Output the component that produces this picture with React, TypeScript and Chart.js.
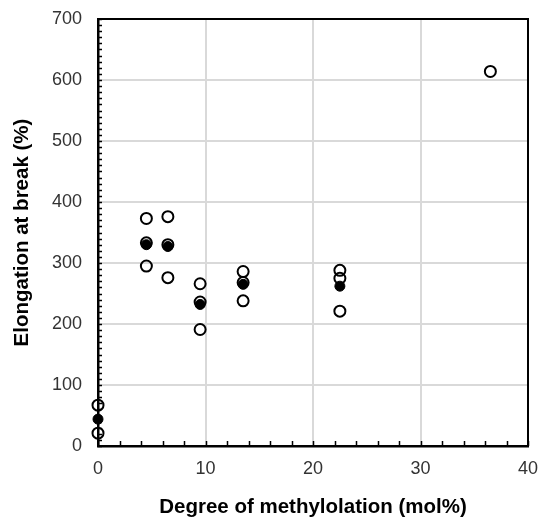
import React, { useEffect, useRef } from "react";
import { Chart, registerables } from "chart.js";

Chart.register(...registerables);

// Individual measurements (open circles)
const openX = [0, 0, 4.5, 4.5, 4.5, 6.5, 6.5, 6.5, 9.5, 9.5, 9.5, 13.5, 13.5, 13.5, 22.5, 22.5, 22.5, 36.5];
const openY = [67, 21, 373, 333, 295, 376, 330, 276, 266, 236, 191, 286, 268, 238, 288, 275, 221, 614];

// Mean values (filled circles)
const meanX = [0, 4.5, 6.5, 9.5, 13.5, 22.5];
const meanY = [44, 330, 327, 232, 265, 262];

const xTicks = [0, 10, 20, 30, 40];
const yTicks = [0, 100, 200, 300, 400, 500, 600, 700];
const xMinorStep = 2;
const yMinorStep = 10;

const xTitle = "Degree of methylolation (mol%)";
const yTitle = "Elongation at break (%)";

const frameAndMinorTicks = {
  id: "frameAndMinorTicks",
  beforeDatasetsDraw(chart: any) {
    const { ctx, chartArea, scales } = chart;
    const xs = scales.x;
    const ys = scales.y;
    ctx.save();
    ctx.strokeStyle = "#000";
    ctx.lineWidth = 2;
    ctx.beginPath();
    ctx.moveTo(chartArea.left, chartArea.top);
    ctx.lineTo(chartArea.right, chartArea.top);
    ctx.lineTo(chartArea.right, chartArea.bottom);
    ctx.stroke();
    ctx.lineWidth = 1.5;
    ctx.beginPath();
    for (let v = xTicks[0]; v <= xTicks[xTicks.length - 1]; v += xMinorStep) {
      const px = Math.round(xs.getPixelForValue(v)) + 0.5;
      ctx.moveTo(px, chartArea.bottom);
      ctx.lineTo(px, chartArea.bottom - 5);
    }
    for (let v = yTicks[0]; v <= yTicks[yTicks.length - 1]; v += yMinorStep) {
      const py = Math.round(ys.getPixelForValue(v)) + 0.5;
      ctx.moveTo(chartArea.left, py);
      ctx.lineTo(chartArea.left + 4, py);
    }
    ctx.stroke();
    ctx.restore();
  },
};

export default function App() {
  const ref = useRef<HTMLCanvasElement | null>(null);
  useEffect(() => {
    if (!ref.current) return;
    const chart = new Chart(ref.current, {
      type: "scatter",
      data: {
        datasets: [
          {
            label: "mean",
            data: meanX.map((x, i) => ({ x, y: meanY[i] })),
            pointStyle: "circle",
            pointRadius: 5,
            pointBorderWidth: 1,
            pointBackgroundColor: "#000",
            pointBorderColor: "#000",
            clip: false,
            order: 0,
          },
          {
            label: "samples",
            data: openX.map((x, i) => ({ x, y: openY[i] })),
            pointStyle: "circle",
            pointRadius: 5.5,
            pointBorderWidth: 2,
            pointBackgroundColor: "rgba(255,255,255,0)",
            pointBorderColor: "#000",
            clip: false,
            order: 1,
          },
        ],
      },
      options: {
        animation: false,
        responsive: true,
        maintainAspectRatio: false,
        layout: { padding: { left: 0, top: 19, right: 14, bottom: 0 } },
        plugins: { legend: { display: false }, tooltip: { enabled: false } },
        scales: {
          x: {
            type: "linear",
            min: 0,
            max: 40,
            afterFit: (s: any) => {
              s.height = 75;
              s.paddingLeft = 0;
              s.paddingRight = 0;
            },
            afterBuildTicks: (s: any) => {
              s.ticks = xTicks.map((v) => ({ value: v }));
            },
            ticks: {
              padding: 12,
              color: "#333",
              font: { family: "Liberation Sans, Arial, sans-serif", size: 18 },
            },
            grid: { color: "#d9d9d9", lineWidth: 2, drawTicks: false },
            border: { color: "#000", width: 2.5 },
            title: {
              display: true,
              text: xTitle,
              color: "#000",
              padding: { top: 0, bottom: 1 },
              font: { family: "Liberation Sans, Arial, sans-serif", size: 20.5, weight: "bold" },
            },
          },
          y: {
            type: "linear",
            min: 0,
            max: 700,
            afterFit: (s: any) => {
              s.width = 98;
              s.paddingTop = 0;
              s.paddingBottom = 0;
            },
            afterBuildTicks: (s: any) => {
              s.ticks = yTicks.map((v) => ({ value: v }));
            },
            ticks: {
              padding: 16,
              color: "#333",
              font: { family: "Liberation Sans, Arial, sans-serif", size: 18 },
            },
            grid: { color: "#d9d9d9", lineWidth: 2, drawTicks: false },
            border: { color: "#000", width: 2.5 },
            title: {
              display: true,
              text: yTitle,
              color: "#000",
              padding: { top: 10, bottom: 0 },
              font: { family: "Liberation Sans, Arial, sans-serif", size: 20.5, weight: "bold" },
            },
          },
        },
      },
      plugins: [frameAndMinorTicks],
    });
    return () => chart.destroy();
  }, []);
  return (
    <div style={{ position: "fixed", left: 0, top: 0, width: 542, height: 521, background: "#fff" }}>
      <canvas ref={ref} />
    </div>
  );
}
